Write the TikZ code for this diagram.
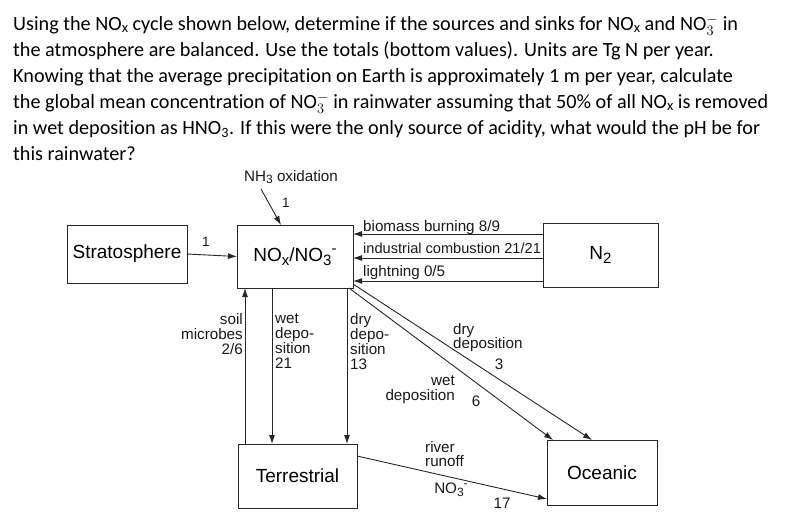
\documentclass[tikz,border=0pt]{standalone}
\usepackage{fontspec}
\setmainfont{Carlito}[Ligatures=NoCommon]
\newfontfamily\helv{Liberation Sans}
\usetikzlibrary{arrows.meta}
\newcommand{\qx}{\raisebox{-0.2ex}{\fontsize{14.5}{14.5}\selectfont x}}
\newcommand{\dsub}[1]{\raisebox{-0.35ex}{\fontsize{12}{12}\selectfont #1}}
\newcommand{\dsup}[1]{\raisebox{0.75ex}{\fontsize{12}{12}\selectfont #1}}
\newcommand{\bsub}[1]{\raisebox{-0.4ex}{\fontsize{15}{15}\selectfont #1}}
\newcommand{\bsup}[1]{\raisebox{0.8ex}{\fontsize{15}{15}\selectfont #1}}
\begin{document}
\begin{tikzpicture}[x=1pt,y=-1pt,
  qline/.style={anchor=base west,inner sep=0,font=\fontsize{20.2}{20.2}\selectfont},
  box/.style={draw=black!85,line width=1pt,inner sep=0,outer sep=0,font=\helv\fontsize{19}{19}\selectfont},
  lab/.style={inner sep=0,font=\helv\fontsize{15.2}{15}\selectfont,text=black!90},
  arr/.style={draw=black!85,line width=0.9pt,-{Latex[length=9pt,width=6pt]}},
  ln/.style={draw=black!85,line width=0.9pt}]
\useasboundingbox (0,0) rectangle (790,525);
% question text
\node[qline] (q1) at (13,30.7) {Using the NO\qx{} cycle shown below, determine if the sources and sinks for NO\qx{} and $\mathrm{NO}_3^-$ in};
\node[qline] (q2) at (13,56.5) {the atmosphere are balanced. Use the totals (bottom values). Units are Tg N per year.};
\node[qline] (q3) at (13,82.5) {Knowing that the average precipitation on Earth is approximately 1 m per year, calculate};
\node[qline] (q4) at (13,108.7) {the global mean concentration of $\mathrm{NO}_3^-$ in rainwater assuming that 50\% of all NO\qx{} is removed};
\node[qline] (q5) at (13,134.5) {in wet deposition as HNO\textsubscript{3}. If this were the only source of acidity, what would the pH be for};
\node[qline] (q6) at (13,160.7) {this rainwater?};
% boxes
\node[box,minimum width=120,minimum height=58] (strat) at (127,254) {Stratosphere};
\node[box,minimum width=116,minimum height=63] (nox) at (295,256.5) {NO\bsub{x}/NO\bsub{3}\bsup{-}};
\node[box,minimum width=115,minimum height=64] (n2) at (600.5,255) {N\bsub{2}};
\node[box,minimum width=119,minimum height=64] (terr) at (297.5,476) {Terrestrial};
\node[box,minimum width=110,minimum height=65] (ocean) at (602,472.5) {Oceanic};
% NH3 oxidation
\node[lab] (nh3) at (291,177) {NH\dsub{3} oxidation};
\coordinate (nh3s) at (261,189);
\coordinate (nh3e) at (281,225);
\draw[arr] (nh3s) -- (nh3e);
\node[lab,font=\helv\fontsize{13.5}{13}\selectfont] (l1a) at (286,203) {1};
% stratosphere -> NOx
\draw[arr] (strat.east) -- (nox.west);
\node[lab,font=\helv\fontsize{13.5}{13}\selectfont] (l1b) at (206,242) {1};
% N2 -> NOx
\draw[arr] (n2.west |- 0,234) -- (nox.east |- 0,234);
\draw[arr] (n2.west |- 0,258) -- (nox.east |- 0,258);
\draw[arr] (n2.west |- 0,281) -- (nox.east |- 0,281);
\node[lab,anchor=base west] (bb) at (363,231) {biomass burning 8/9};
\node[lab,anchor=base west,font=\helv\fontsize{14.6}{15}\selectfont] (ic) at (363,253.5) {industrial combustion 21/21};
\node[lab,anchor=base west] (lt) at (363,276.5) {lightning 0/5};
% vertical fluxes
\draw[arr] (terr.north -| 245,0) -- (nox.south -| 245,0);
\draw[arr] (nox.south -| 272,0) -- (terr.north -| 272,0);
\draw[arr] (nox.south -| 347,0) -- (terr.north -| 347,0);
\node[lab,anchor=north east,align=right] (soil) at (243,313) {soil\\microbes\\2/6};
\node[lab,anchor=north west,align=left] (wetv) at (275,313) {wet\\depo-\\sition\\21};
\node[lab,anchor=north west,align=left] (dryv) at (350,313) {dry\\depo-\\sition\\13};
% diagonal deposition to ocean
\coordinate (w0) at (349,288);
\coordinate (w1) at (553,440);
\coordinate (d0) at (353,284);
\coordinate (d1) at (592,440);
\draw[arr] (w0) -- (w1);
\draw[arr] (d0) -- (d1);
\node[lab,anchor=north west,align=left,font=\helv\fontsize{15.2}{14.5}\selectfont] (dryd) at (453,323) {dry\\deposition};
\node[lab] (d3) at (499,364) {3};
\node[lab,anchor=north east,align=right,font=\helv\fontsize{15.2}{15}\selectfont] (wetd) at (455,375) {wet\\deposition};
\node[lab] (w6) at (476,401) {6};
% river runoff
\draw[arr] (terr.east |- 0,456) -- (ocean.west |- 0,499);
\node[lab,anchor=north west,align=left,font=\helv\fontsize{15.2}{14.5}\selectfont] (river) at (425,441) {river\\runoff};
\node[lab] (no3r) at (451,490) {NO\dsub{3}\dsup{-}};
\node[lab] (r17) at (502,503) {17};
\end{tikzpicture}
\end{document}
